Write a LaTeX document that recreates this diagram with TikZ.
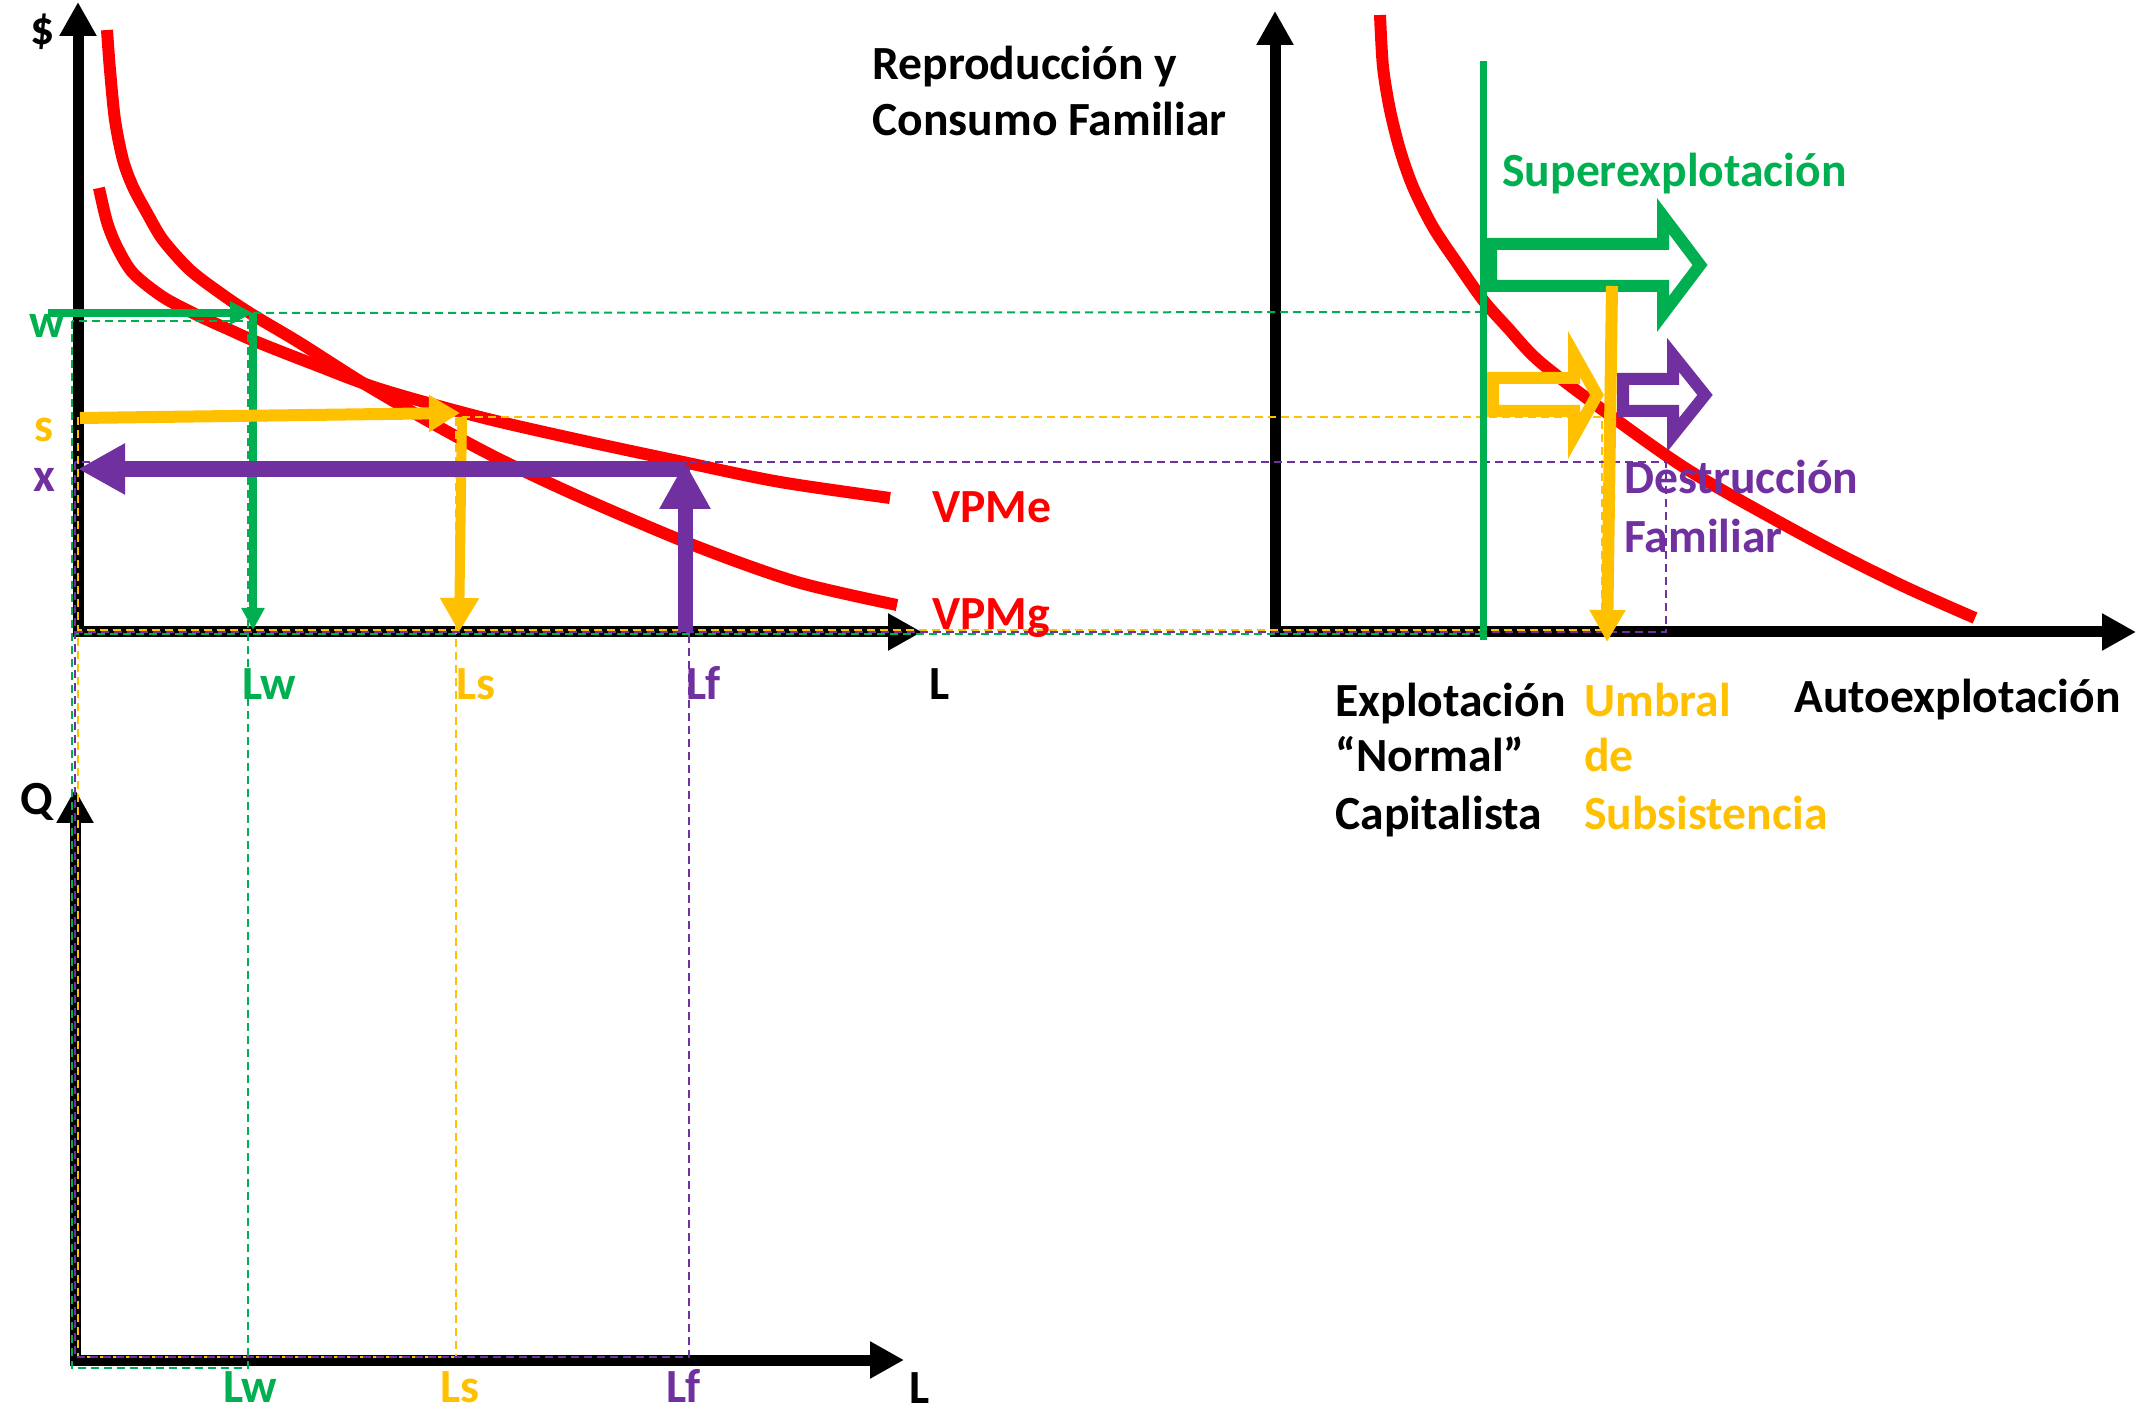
\documentclass[tikz,border=0pt]{standalone}
\usepackage{fontspec}
\setmainfont{Carlito}
\usepackage{tikz}
\usetikzlibrary{arrows.meta}

\definecolor{vgreen}{RGB}{0,176,80}
\definecolor{vyellow}{RGB}{255,192,0}
\definecolor{vpurple}{RGB}{112,48,160}
\definecolor{vred}{RGB}{255,0,0}

\begin{document}
\begin{tikzpicture}[x=0.5pt,y=-0.5pt,
    axis/.style={line width=5.5pt,-{Triangle[length=17pt,width=17.5pt]}},
    curve/.style={vred,line width=6pt},
    guide/.style={line width=1pt,dash pattern=on 4pt off 2.5pt},
    shiftarrow/.style={line width=6pt,miter limit=10},
    lbl/.style={font=\fontsize{23.8}{28}\selectfont\bfseries,inner sep=0pt,anchor=base west}]

    \useasboundingbox (0,0) rectangle (2138,1411);

    % points
    \coordinate (wpt) at (253,313);
    \coordinate (spt) at (460,413);
    \coordinate (xpt) at (684,469);
    \coordinate (Lw) at (253,630);
    \coordinate (Ls) at (459,632);
    \coordinate (Lf) at (685,632);

    % axes
    \draw[axis] (78,637) -- (78,2);
    \draw[axis] (73,632) -- (922,632);
    \draw[axis] (75,1365) -- (75,789);
    \draw[axis] (70,1360) -- (904,1360);
    \draw[axis] (1275,637) -- (1275,11);
    \draw[axis] (1270,632) -- (2136,632);

    % curves
    \draw[curve] plot[smooth] coordinates {(107,30) (110,70) (115,120) (123,160) (133,187)
        (147,213) (163,240) (190,270) (223,295) (253,315) (300,343) (363,383) (430,422)
        (497,458) (580,497) (693,545) (797,582) (897,605)};
    \draw[curve] plot[smooth] coordinates {(99,188) (107,222) (117,247) (133,273) (163,297)
        (197,315) (230,330) (257,342) (313,364) (380,389) (480,417) (580,440) (683,462)
        (780,482) (890,498)};
    \draw[curve] plot[smooth] coordinates {(1380,15) (1383,67) (1390,110) (1400,150) (1413,187)
        (1433,227) (1457,263) (1483,300) (1507,327) (1540,362) (1607,413) (1693,473) (1816,542)
        (1901,585) (1975,618)};

    % guides
    \draw[guide,vgreen] (72,321) rectangle (248,1368);
    \draw[guide,vgreen] (wpt) -- (1483,312);
    \draw[guide,vgreen] (1483,634) -- (75,634);
    \draw[guide,vyellow] (78,417) rectangle (456,1357);
    \draw[guide,vyellow] (462,417) -| (1602,630) -- (78,630);
    \draw[guide,vpurple] (75,462) rectangle (689,1357);
    \draw[guide,vpurple] (689,462) -| (1666,632) -- (75,632);

    % levels
    \draw[vgreen,line width=4pt,-{Triangle[length=11.5pt,width=11pt]}] (48,313) -- (wpt);
    \draw[vgreen,line width=4pt,-{Triangle[length=11pt,width=11pt]}] (wpt) -- (Lw);
    \draw[vyellow,line width=6pt,-{Triangle[length=15.5pt,width=17.5pt]}] (80,418) -- (spt);
    \draw[vyellow,line width=5pt,-{Triangle[length=17pt,width=18.5pt]}] (462,417) -- (Ls);
    \draw[vpurple,line width=8pt,-{Triangle[length=23.5pt,width=24pt]}] (xpt) -- (78,469);
    \draw[vpurple,line width=7.5pt,-{Triangle[length=23.5pt,width=24pt]}] (Lf) -- (685,462);

    % right chart
    \draw[vgreen,line width=3.5pt] (1483,61) -- (1483,640);
    \draw[shiftarrow,vgreen] (1491,244) -- (1663,244) -- (1663,216) -- (1700,265)
        -- (1663,314) -- (1663,286) -- (1491,286) -- cycle;
    \draw[shiftarrow,vyellow] (1493,378) -- (1574,378) -- (1574,354) -- (1597,395)
        -- (1574,436) -- (1574,411) -- (1493,411) -- cycle;
    \draw[shiftarrow,vpurple] (1623,379) -- (1673,379) -- (1673,355) -- (1705,395)
        -- (1673,435) -- (1673,411) -- (1623,411) -- cycle;
    \draw[vyellow,line width=6pt,-{Triangle[length=16pt,width=17pt]}] (1612,286) -- (1607,642);

    % labels
    \node[lbl] (dol) at (30,45) {\$};
    \node[lbl,vgreen] (w) at (29,338) {w};
    \node[lbl,vyellow] (s) at (34,442) {s};
    \node[lbl,vpurple] (x) at (33,492) {x};
    \node[lbl,vgreen] (Lwa) at (242,700) {Lw};
    \node[lbl,vyellow] (Lsa) at (456,700) {Ls};
    \node[lbl,vpurple] (Lfa) at (686,700) {Lf};
    \node[lbl] (La) at (929,700) {L};
    \node[lbl,vred] (vpme) at (932,523) {VPMe};
    \node[lbl,vred] (vpmg) at (932,630) {VPMg};
    \node[lbl] (q) at (20,815) {Q};
    \node[lbl,vgreen] (Lwb) at (223,1402) {Lw};
    \node[lbl,vyellow] (Lsb) at (440,1402) {Ls};
    \node[lbl,vpurple] (Lfb) at (666,1402) {Lf};
    \node[lbl] (Lb) at (909,1403) {L};
    \node[lbl] (rep1) at (872,80) {Reproducción y};
    \node[lbl] (rep2) at (872,136) {Consumo Familiar};
    \node[lbl,vgreen] (sup) at (1502,187) {Superexplotación};
    \node[lbl,vpurple] (des1) at (1624,494) {Destrucción};
    \node[lbl,vpurple] (des2) at (1624,553) {Familiar};
    \node[lbl] (exp1) at (1335,717) {Explotación};
    \node[lbl] (exp2) at (1335,772) {“Normal”};
    \node[lbl] (exp3) at (1335,829) {Capitalista};
    \node[lbl,vyellow] (umb1) at (1584,717) {Umbral};
    \node[lbl,vyellow] (umb2) at (1584,772) {de};
    \node[lbl,vyellow] (umb3) at (1584,829) {Subsistencia};
    \node[lbl] (aut) at (1794,713) {Autoexplotación};

\end{tikzpicture}
\end{document}
